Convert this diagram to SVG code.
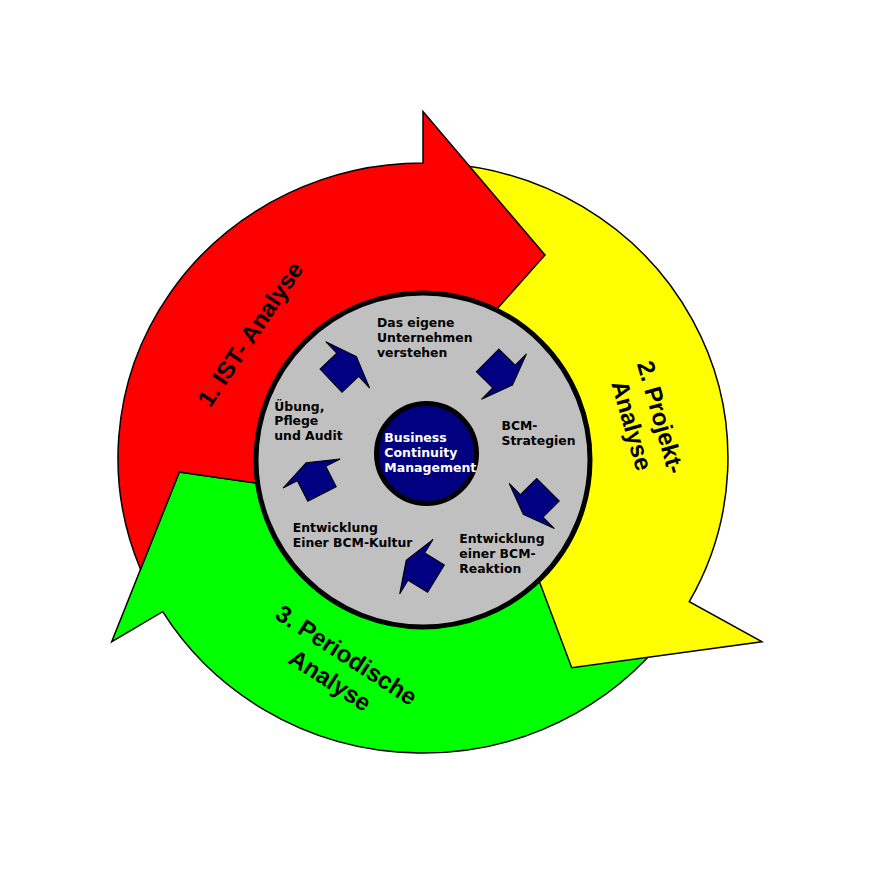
<svg xmlns="http://www.w3.org/2000/svg" width="874" height="874" viewBox="0 0 874 874">
<style>
.big{stroke:#000;stroke-width:1.5;stroke-linejoin:miter}
.bt{font-family:"Liberation Sans",Arial,sans-serif;font-weight:bold;font-size:24px;fill:#000;text-anchor:middle}
.lb{font-family:"DejaVu Sans",Verdana,sans-serif;font-weight:bold;font-size:12.4px;fill:#000}
.core{font-family:"DejaVu Sans",Verdana,sans-serif;font-weight:bold;font-size:12.5px;fill:#fff}
.sa{fill:#000080;stroke:#000;stroke-width:1}
</style>
<defs>
<polygon id="smallArrow" points="0,-16 23,-16 23,-32 35,0 23,32 23,16 0,16"/>
</defs>
<rect width="874" height="874" fill="#fff"/>
<g id="arrow-periodische-analyse">
<path class="big" fill="#00FF00" d="M678.8,618.7 A305,295 0 0 1 162.7,611.7 L111.7,641.7 L179.3,472 L275,485.8 L548.8,541.7 Z"/>
</g>
<g id="arrow-projekt-analyse">
<path class="big" fill="#FFFF00" d="M449.58,164.12 A305,295 0 0 1 689.3,601.7 L761.7,641.7 L571.7,667.7 L529.4,554.9 L435.2,320.5 Z"/>
</g>
<g id="arrow-ist-analyse">
<path class="big" fill="#FF0000" d="M140.5,569.2 A305,295 0 0 1 423,163 L423,111.5 L545,255 L470,339.3 L275,485.8 L179.3,472 Z"/>
</g>
<g id="label-ist"><text class="bt" transform="translate(250,334) rotate(-56)" y="8.5">1. IST- Analyse</text></g>
<g id="label-projekt" transform="translate(646.5,421.3) rotate(74)">
<text class="bt" y="-6.5">2. Projekt-</text>
<text class="bt" y="23.5">Analyse</text>
</g>
<g id="label-periodische" transform="translate(338.5,667.5) rotate(33)">
<text class="bt" y="-6.5">3. Periodische</text>
<text class="bt" y="23.5">Analyse</text>
</g>
<g id="ring">
<circle cx="423" cy="460" r="167" fill="#C0C0C0" stroke="#000" stroke-width="5"/>
</g>
<g id="core">
<circle cx="426.5" cy="453.5" r="50" fill="#000080" stroke="#000" stroke-width="5"/>
<text class="core" x="384.3" y="441.7">Business</text>
<text class="core" x="384.3" y="456.7">Continuity</text>
<text class="core" x="384.3" y="471.7">Management</text>
</g>
<g id="step-verstehen">
<text class="lb" x="377" y="327.3">Das eigene</text>
<text class="lb" x="377" y="342.3">Unternehmen</text>
<text class="lb" x="377" y="357.3">verstehen</text>
</g>
<g id="step-strategien">
<text class="lb" x="501.5" y="430">BCM-</text>
<text class="lb" x="501.5" y="444.5">Strategien</text>
</g>
<g id="step-reaktion">
<text class="lb" x="459.3" y="542.7">Entwicklung</text>
<text class="lb" x="459.3" y="557.7">einer BCM-</text>
<text class="lb" x="459.3" y="572.7">Reaktion</text>
</g>
<g id="step-kultur">
<text class="lb" x="292.7" y="532.3">Entwicklung</text>
<text class="lb" x="292.7" y="546.7">Einer BCM-Kultur</text>
</g>
<g id="step-uebung">
<text class="lb" x="274.3" y="410.5">Übung,</text>
<text class="lb" x="274.3" y="425.2">Pflege</text>
<text class="lb" x="274.3" y="440">und Audit</text>
</g>
<g id="connectors">
<use href="#smallArrow" class="sa" transform="translate(331,380.65) rotate(-43.4)"/>
<use href="#smallArrow" class="sa" transform="translate(487.65,360.35) rotate(44.8)"/>
<use href="#smallArrow" class="sa" transform="translate(548,489.65) rotate(135)"/>
<use href="#smallArrow" class="sa" transform="translate(436,578.65) rotate(-148.5)"/>
<use href="#smallArrow" class="sa" transform="translate(322,494) rotate(-117)"/>
</g>
</svg>
